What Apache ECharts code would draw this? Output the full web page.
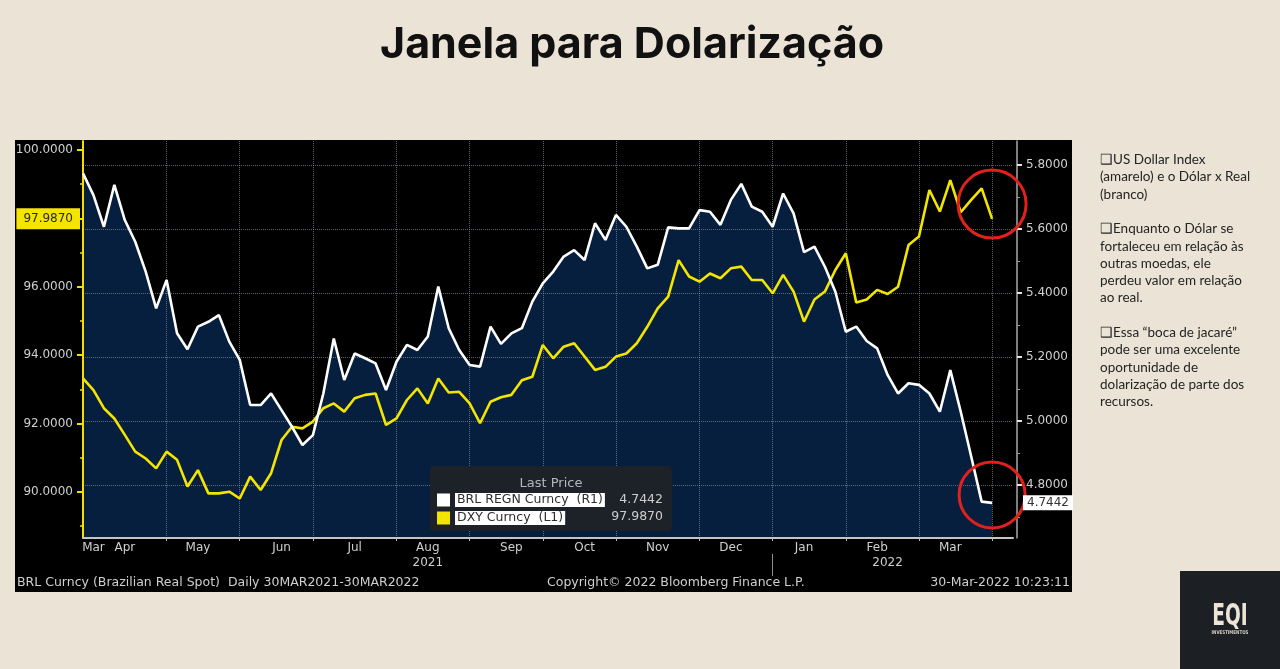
<!DOCTYPE html>
<html>
<head>
<meta charset="utf-8">
<script src="https://cdn.jsdelivr.net/npm/echarts@6/dist/echarts.min.js"></script>
<style>
  html, body { margin: 0; padding: 0; background: #ebe3d6; }
  #chart { width: 1280px; height: 669px; }
</style>
</head>
<body>
<div id="chart"></div>
<script>
// sampled every third trading day, last two are empty padding days
const dates = [
  '2021-03-30', '2021-04-02', '2021-04-07', '2021-04-12', '2021-04-15', '2021-04-20', '2021-04-23', '2021-04-28',
  '2021-05-03', '2021-05-06', '2021-05-11', '2021-05-14', '2021-05-19', '2021-05-24', '2021-05-27',
  '2021-06-01', '2021-06-04', '2021-06-09', '2021-06-14', '2021-06-17', '2021-06-22', '2021-06-25', '2021-06-30',
  '2021-07-05', '2021-07-08', '2021-07-13', '2021-07-16', '2021-07-21', '2021-07-26', '2021-07-29',
  '2021-08-03', '2021-08-06', '2021-08-11', '2021-08-16', '2021-08-19', '2021-08-24', '2021-08-27',
  '2021-09-01', '2021-09-06', '2021-09-09', '2021-09-14', '2021-09-17', '2021-09-22', '2021-09-27', '2021-09-30',
  '2021-10-05', '2021-10-08', '2021-10-13', '2021-10-18', '2021-10-21', '2021-10-26', '2021-10-29',
  '2021-11-03', '2021-11-08', '2021-11-11', '2021-11-16', '2021-11-19', '2021-11-24', '2021-11-29',
  '2021-12-02', '2021-12-07', '2021-12-10', '2021-12-15', '2021-12-20', '2021-12-23', '2021-12-28', '2021-12-31',
  '2022-01-05', '2022-01-10', '2022-01-13', '2022-01-18', '2022-01-21', '2022-01-26', '2022-01-31',
  '2022-02-03', '2022-02-08', '2022-02-11', '2022-02-16', '2022-02-21', '2022-02-24',
  '2022-03-01', '2022-03-04', '2022-03-09', '2022-03-14', '2022-03-17', '2022-03-22', '2022-03-25', '2022-03-30',
  '2022-04-04', '2022-04-07'
];

// BRL REGN Curncy (right axis)
const brl = [
  5.774, 5.706, 5.607, 5.738, 5.628, 5.560, 5.467, 5.352,
  5.441, 5.274, 5.224, 5.295, 5.310, 5.331, 5.248, 5.191,
  5.050, 5.050, 5.086, 5.034, 4.982, 4.925, 4.956, 5.086,
  5.258, 5.128, 5.211, 5.196, 5.180, 5.097, 5.185, 5.238,
  5.222, 5.264, 5.420, 5.290, 5.222, 5.175, 5.170, 5.295,
  5.241, 5.274, 5.290, 5.373, 5.430, 5.467, 5.514, 5.534,
  5.503, 5.618, 5.566, 5.644, 5.607, 5.545, 5.477, 5.488,
  5.605, 5.602, 5.602, 5.659, 5.654, 5.613, 5.691, 5.741,
  5.670, 5.654, 5.607, 5.711, 5.649, 5.528, 5.545, 5.482,
  5.404, 5.279, 5.295, 5.250, 5.227, 5.144, 5.086, 5.118,
  5.113, 5.086, 5.029, 5.159, 5.029, 4.889, 4.748, 4.7442
];

// DXY Curncy (left axis)
const dxy = [
  93.32, 92.98, 92.45, 92.15, 91.67, 91.18, 90.98, 90.69,
  91.18, 90.94, 90.16, 90.64, 89.96, 89.96, 90.01, 89.81,
  90.45, 90.06, 90.55, 91.52, 91.91, 91.86, 92.06, 92.45,
  92.59, 92.35, 92.74, 92.84, 92.88, 91.96, 92.15, 92.69,
  93.03, 92.59, 93.32, 92.91, 92.93, 92.59, 92.01, 92.64,
  92.77, 92.84, 93.27, 93.37, 94.30, 93.91, 94.25, 94.35,
  93.96, 93.57, 93.66, 93.96, 94.05, 94.35, 94.83, 95.37,
  95.71, 96.78, 96.30, 96.15, 96.39, 96.25, 96.54, 96.59,
  96.20, 96.20, 95.81, 96.35, 95.86, 94.98, 95.63, 95.86,
  96.49, 96.98, 95.54, 95.63, 95.91, 95.79, 96.00, 97.22,
  97.47, 98.83, 98.20, 99.12, 98.18, 98.54, 98.88, 97.987
];

const tickDates = ['2021-05-03', '2021-06-01', '2021-06-30', '2021-08-03', '2021-09-01', '2021-09-30',
  '2021-10-29', '2021-12-02', '2021-12-31', '2022-01-31', '2022-03-01', '2022-03-30'];
const monthLabelDates = ['2021-04-02', '2021-04-15', '2021-05-14', '2021-06-17', '2021-07-16', '2021-08-16',
  '2021-09-17', '2021-10-18', '2021-11-16', '2021-12-15', '2022-01-13', '2022-02-11', '2022-03-14'];
const monthLabels = ['Mar', 'Apr', 'May', 'Jun', 'Jul', 'Aug', 'Sep', 'Oct', 'Nov', 'Dec', 'Jan', 'Feb', 'Mar'];
const yearLabelDates = ['2021-08-16', '2022-02-16'];
const yearLabels = ['2021', '2022'];
const yearSplitDates = ['2021-12-31'];

const leftTicks = [90, 92, 94, 96, 98, 100];
const leftMinorTicks = [89, 91, 93, 95, 97, 99];
const rightTicks = [4.8, 5.0, 5.2, 5.4, 5.6, 5.8];
const rightMinorTicks = [4.7, 4.9, 5.1, 5.3, 5.5, 5.7];

const LEFT_MIN = 88.655, LEFT_MAX = 100.263;
const RIGHT_MIN = 4.6344, RIGHT_MAX = 5.875;

const BBG_FONT = 'DejaVu Sans';
const YELLOW = '#efe000';
const GRID_LINE = { color: 'rgba(150, 162, 178, 0.6)', type: 'dotted', width: 1 };

const lastBrl = brl[brl.length - 1];
const lastDxy = dxy[dxy.length - 1];

function yAx(pos, min, max, extra) {
  return Object.assign({
    type: 'value',
    position: pos,
    min: min,
    max: max,
    offset: pos === 'right' ? 4 : 0,
    z: 2,
    axisLine: { show: false },
    axisTick: { show: false },
    axisLabel: { show: false },
    splitLine: { show: false },
  }, extra);
}

const labelStyle = { color: '#cfcfcf', fontSize: 12, fontFamily: BBG_FONT };

const chart = echarts.init(document.getElementById('chart'));
chart.setOption({
  backgroundColor: '#ebe3d6',
  animation: false,
  grid: { left: 83, right: 267, top: 141, bottom: 131 },
  legend: {
    data: ['BRL REGN Curncy  (R1)', 'DXY Curncy  (L1)'],
    orient: 'vertical',
    left: 437,
    top: 493,
    padding: 0,
    itemWidth: 13,
    itemHeight: 13,
    itemGap: 4,
    icon: 'rect',
    selectedMode: false,
    z: 10,
    textStyle: {
      color: '#2e2e2e',
      backgroundColor: '#ffffff',
      padding: [1, 2, 0, 2],
      fontSize: 12.5,
      fontFamily: BBG_FONT,
    },
  },
  xAxis: [
    {
      type: 'category',
      data: dates,
      boundaryGap: false,
      z: 2,
      axisLine: { lineStyle: { color: '#c4c4c4', width: 2 } },
      axisTick: {
        interval: (i, v) => tickDates.includes(v),
        length: 3,
        lineStyle: { color: '#bdbdbd' },
      },
      axisLabel: Object.assign({
        interval: (i, v) => monthLabelDates.includes(v),
        formatter: (v) => monthLabels[monthLabelDates.indexOf(v)],
        margin: 4,
      }, labelStyle),
      splitLine: {
        show: true,
        interval: (i, v) => tickDates.includes(v),
        lineStyle: GRID_LINE,
      },
    },
    {
      type: 'category',
      data: dates,
      boundaryGap: false,
      position: 'bottom',
      offset: 16,
      axisLine: { show: false },
      axisTick: {
        show: true,
        interval: (i, v) => yearSplitDates.includes(v),
        length: 22,
        lineStyle: { color: '#8c8c8c' },
      },
      axisLabel: Object.assign({
        interval: (i, v) => yearLabelDates.includes(v),
        formatter: (v) => yearLabels[yearLabelDates.indexOf(v)],
        margin: 3,
      }, labelStyle),
      splitLine: { show: false },
    },
  ],
  yAxis: [
    yAx('left', LEFT_MIN, LEFT_MAX, {
      axisLine: { show: true, lineStyle: { color: YELLOW, width: 2 } },
      axisTick: { show: true, customValues: leftTicks, length: 6, lineStyle: { color: YELLOW, width: 2 } },
      axisLabel: Object.assign({ show: true, customValues: leftTicks, formatter: (v) => v.toFixed(4), margin: 10 }, labelStyle),
    }),
    yAx('right', RIGHT_MIN, RIGHT_MAX, {
      axisLine: { show: true, lineStyle: { color: '#a9a9a9', width: 1.5 } },
      axisTick: { show: true, customValues: rightTicks, length: 5, lineStyle: { color: '#e6e6e6', width: 2 } },
      axisLabel: Object.assign({ show: true, customValues: rightTicks, formatter: (v) => v.toFixed(4), margin: 9 }, labelStyle),
      splitLine: { show: true, lineStyle: GRID_LINE },
    }),
    yAx('left', LEFT_MIN, LEFT_MAX, {
      axisTick: { show: true, customValues: leftMinorTicks, length: 3, lineStyle: { color: YELLOW, width: 1.5 } },
    }),
    yAx('right', RIGHT_MIN, RIGHT_MAX, {
      axisTick: { show: true, customValues: rightMinorTicks, length: 3, lineStyle: { color: '#9a9a9a', width: 1 } },
    }),
    // last price tags
    yAx('left', LEFT_MIN, LEFT_MAX, {
      z: 6,
      axisLabel: {
        show: true, customValues: [lastDxy], formatter: (v) => v.toFixed(4), margin: 3,
        color: '#2a2a2a', backgroundColor: '#f4e400', padding: [5, 7, 4, 7], fontSize: 12, fontFamily: BBG_FONT,
      },
    }),
    yAx('right', RIGHT_MIN, RIGHT_MAX, {
      z: 6,
      axisLabel: {
        show: true, customValues: [lastBrl], formatter: (v) => v.toFixed(4), margin: 6,
        color: '#333333', backgroundColor: '#ffffff', padding: [2, 4, 1, 4], fontSize: 12, fontFamily: BBG_FONT,
      },
    }),
  ],
  series: [
    {
      name: 'area',
      type: 'line',
      data: brl,
      yAxisIndex: 1,
      symbol: 'none',
      silent: true,
      lineStyle: { width: 0 },
      areaStyle: { color: '#071f3e', opacity: 1 },
      z: 1,
    },
    {
      name: 'DXY Curncy  (L1)',
      type: 'line',
      data: dxy,
      yAxisIndex: 0,
      symbol: 'none',
      color: '#f2e500',
      lineStyle: { width: 2.6 },
      z: 3,
      markPoint: {
        symbol: 'circle',
        symbolSize: 68,
        silent: true,
        label: { show: false },
        itemStyle: { color: 'rgba(0,0,0,0)', borderColor: '#e3211c', borderWidth: 3 },
        data: [{ coord: [87, 98.42] }],
      },
    },
    {
      name: 'BRL REGN Curncy  (R1)',
      type: 'line',
      data: brl,
      yAxisIndex: 1,
      symbol: 'none',
      color: '#ffffff',
      lineStyle: { width: 2.6 },
      z: 4,
      markPoint: {
        symbol: 'circle',
        symbolSize: 66,
        silent: true,
        label: { show: false },
        itemStyle: { color: 'rgba(0,0,0,0)', borderColor: '#e3211c', borderWidth: 3 },
        data: [{ coord: [87, 4.769] }],
      },
    },
  ],
  graphic: [
    { type: 'rect', z: -10, shape: { x: 15, y: 140, width: 1057, height: 452 }, style: { fill: '#000000' } },
    {
      type: 'text', x: 632, y: 45, z: 5,
      style: { text: 'Janela para Dolarização', font: 'bold 43px Inter', fill: '#111111', textAlign: 'center', textVerticalAlign: 'middle' },
    },
    // legend box
    { type: 'rect', z: 8, shape: { x: 430, y: 466, width: 242, height: 65, r: 4 }, style: { fill: '#1d2128' } },
    {
      type: 'text', x: 551, y: 484, z: 9,
      style: { text: 'Last Price', font: '13px "DejaVu Sans"', fill: '#b4b8be', textAlign: 'center', textVerticalAlign: 'middle' },
    },
    {
      type: 'text', x: 663, y: 500, z: 9,
      style: { text: lastBrl.toFixed(4), font: '12.5px "DejaVu Sans"', fill: '#cccccc', textAlign: 'right', textVerticalAlign: 'middle' },
    },
    {
      type: 'text', x: 663, y: 517, z: 9,
      style: { text: lastDxy.toFixed(4), font: '12.5px "DejaVu Sans"', fill: '#cccccc', textAlign: 'right', textVerticalAlign: 'middle' },
    },
    // footer of the bloomberg panel
    {
      type: 'text', x: 17, y: 583, z: 5,
      style: { text: 'BRL Curncy (Brazilian Real Spot)  Daily 30MAR2021-30MAR2022', font: '12.5px "DejaVu Sans"', fill: '#cfcfcf', textVerticalAlign: 'middle' },
    },
    {
      type: 'text', x: 547, y: 583, z: 5,
      style: { text: 'Copyright© 2022 Bloomberg Finance L.P.', font: '12.5px "DejaVu Sans"', fill: '#cfcfcf', textVerticalAlign: 'middle' },
    },
    {
      type: 'text', x: 1070, y: 583, z: 5,
      style: { text: '30-Mar-2022 10:23:11', font: '12.5px "DejaVu Sans"', fill: '#cfcfcf', textAlign: 'right', textVerticalAlign: 'middle' },
    },
    // side notes
    {
      type: 'text', x: 1100, y: 151, z: 5,
      style: {
        text: '❑US Dollar Index\n(amarelo) e o Dólar x Real\n(branco)\n\n❑Enquanto o Dólar se\nfortaleceu em relação às\noutras moedas, ele\nperdeu valor em relação\nao real.\n\n❑Essa “boca de jacaré”\npode ser uma excelente\noportunidade de\ndolarização de parte dos\nrecursos.',
        font: '13.5px Lato', lineHeight: 17.3, fill: '#242424', textVerticalAlign: 'top',
      },
    },
    // EQI badge
    { type: 'rect', z: 5, shape: { x: 1180, y: 571, width: 100, height: 98 }, style: { fill: '#1c1f24' } },
    {
      type: 'text', x: 1230, y: 617, z: 6, scaleX: 0.62,
      style: { text: 'EQI', font: 'bold 30px "DejaVu Sans"', fill: '#ece4d6', textAlign: 'center', textVerticalAlign: 'middle' },
    },
    {
      type: 'text', x: 1230, y: 633, z: 6, scaleX: 0.8,
      style: { text: 'INVESTIMENTOS', font: 'bold 5px "DejaVu Sans"', fill: '#d8d0c2', textAlign: 'center', textVerticalAlign: 'middle' },
    },
  ],
});
</script>
</body>
</html>
